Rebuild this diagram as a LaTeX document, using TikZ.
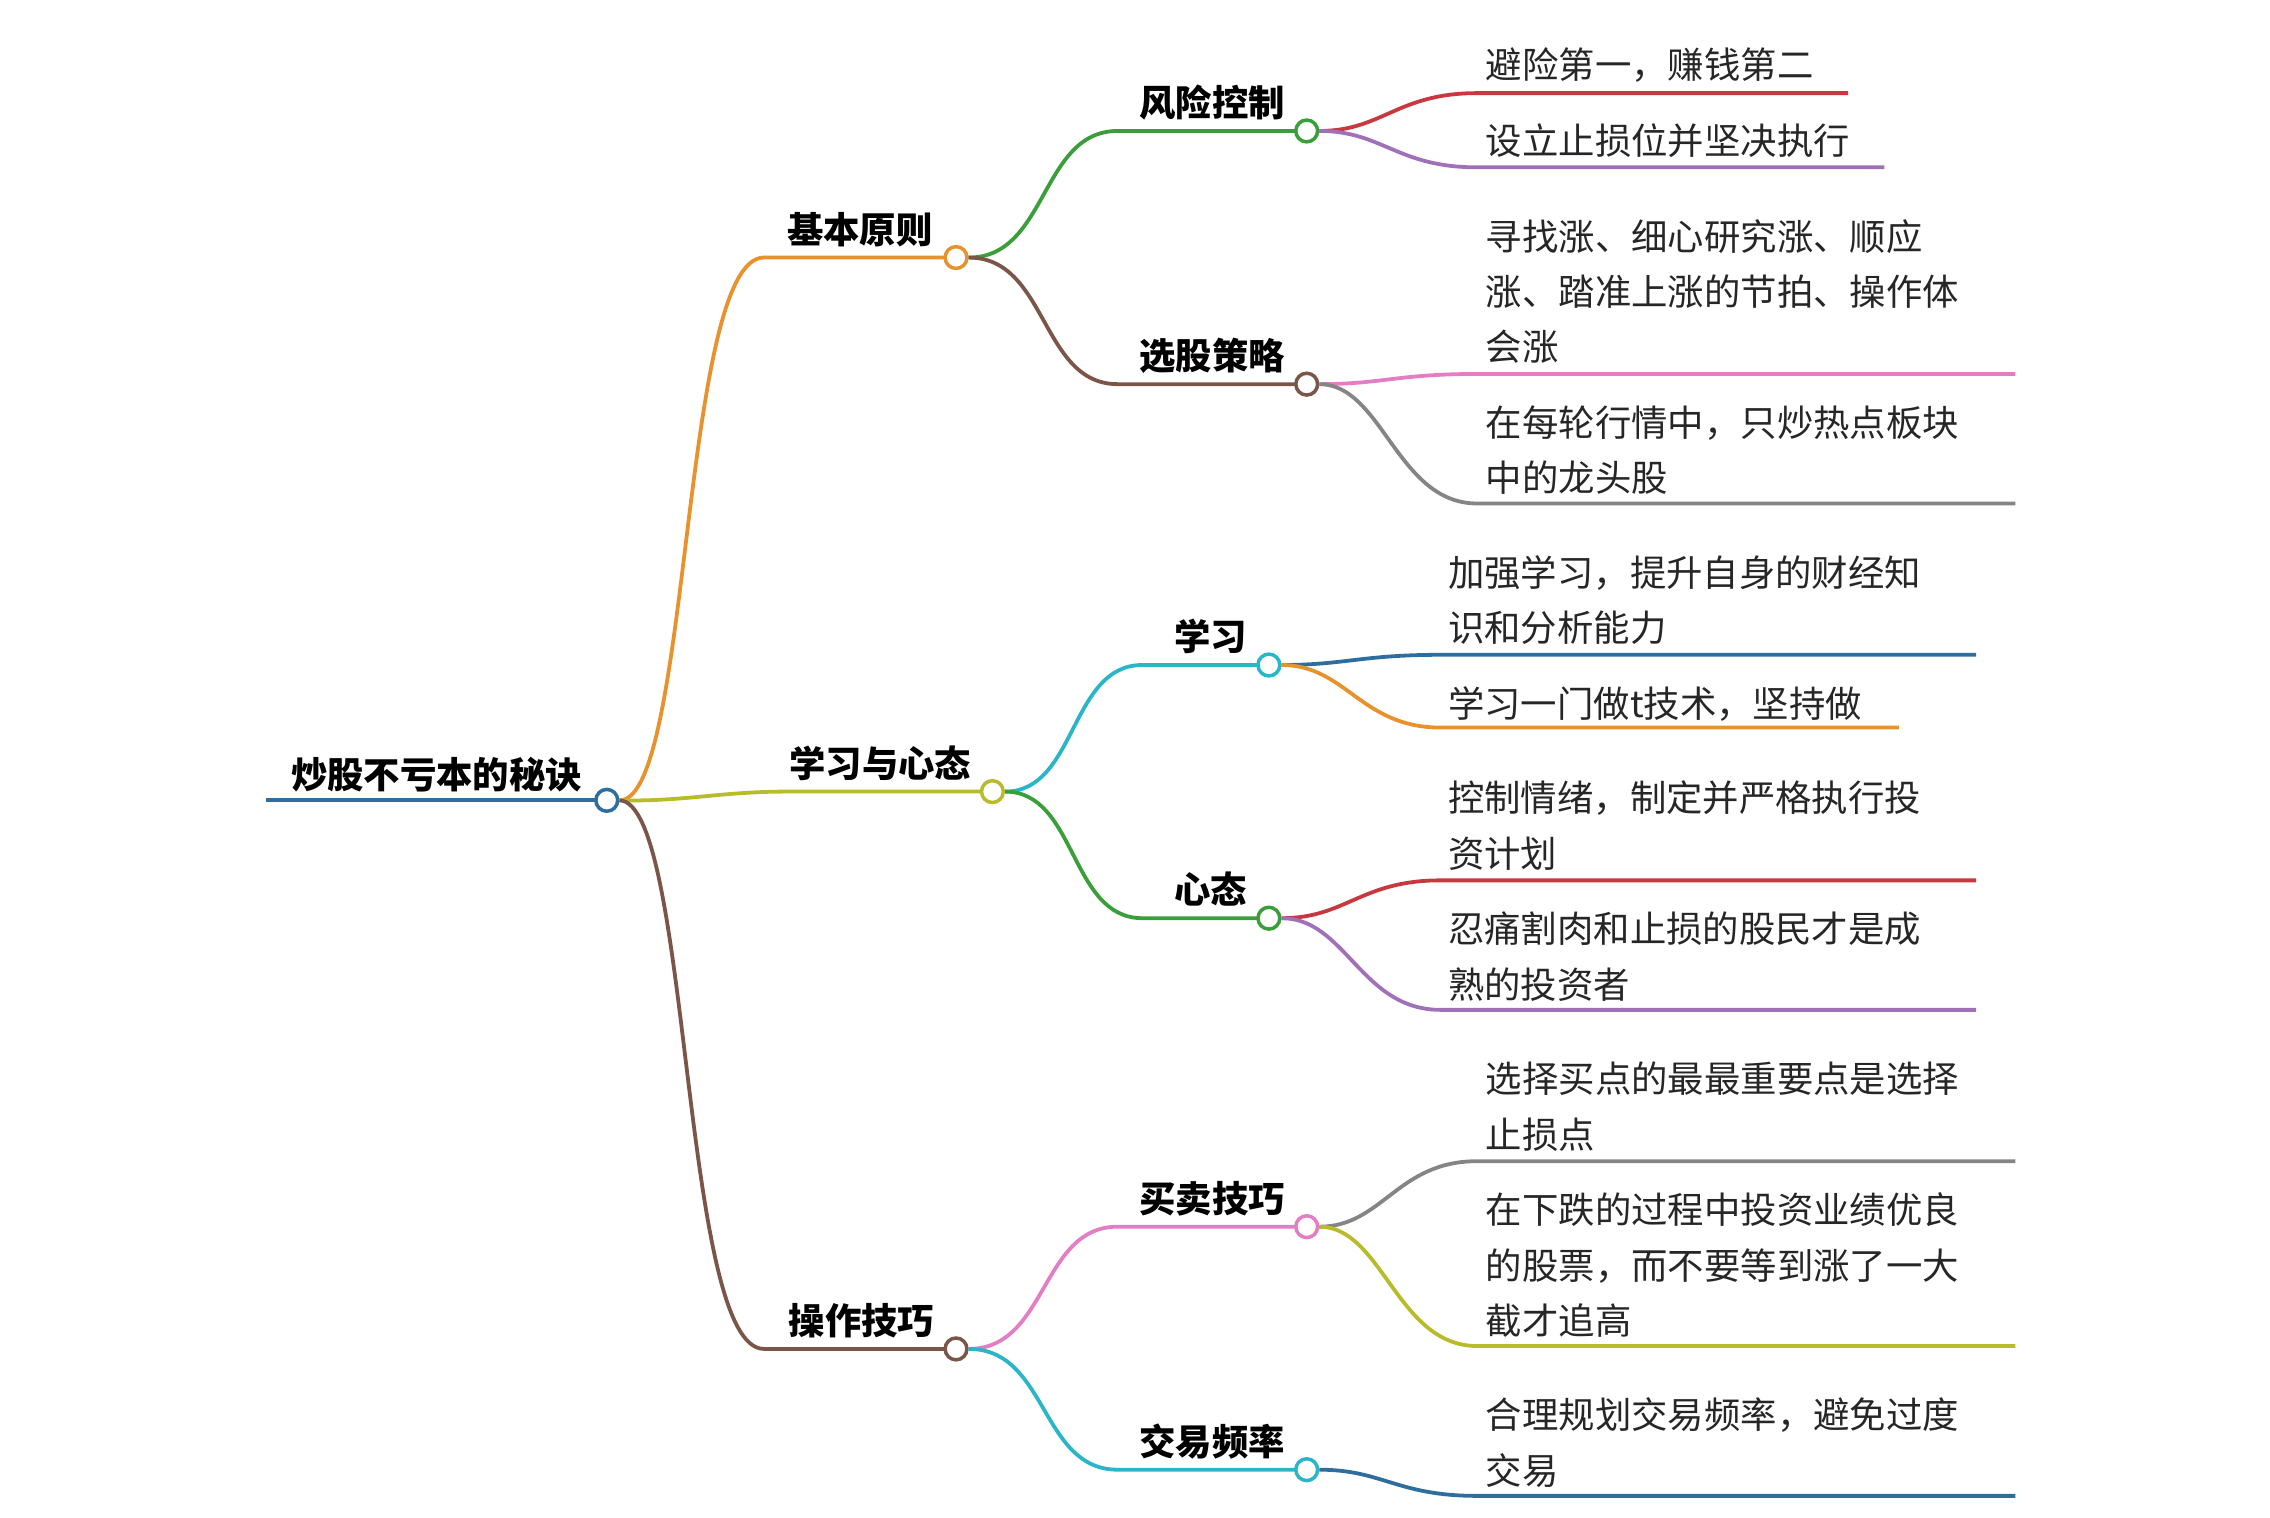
\documentclass[tikz,border=0pt]{standalone}
\usepackage{fontspec}
\setmainfont{Noto Sans CJK SC}
\begin{document}
\begin{tikzpicture}[x=1pt,y=-1pt,
  lw/.style={line width=2.6pt},
  dot/.style={circle,draw,line width=2.4pt,fill=white,minimum size=15pt,inner sep=0},
  lab/.style={font=\fontsize{25}{38}\selectfont\bfseries,inner sep=0,anchor=base},
  leaf/.style={font=\fontsize{25}{38}\selectfont,color=black!85,inner sep=0,anchor=base west,align=left}]
\definecolor{cblue}{HTML}{2E6E9E}\definecolor{corange}{HTML}{E8922E}
\definecolor{cyg}{HTML}{B8BC2A}\definecolor{cbrown}{HTML}{7B5648}
\definecolor{cgreen}{HTML}{3A9E3A}\definecolor{ccyan}{HTML}{2BB5C9}
\definecolor{cpink}{HTML}{E47EC4}\definecolor{cred}{HTML}{C8383F}
\definecolor{cpurple}{HTML}{A070B8}\definecolor{cgray}{HTML}{858585}
\useasboundingbox (0,0) rectangle (1560,1043);
% root
\coordinate (r0) at (183,550);
\draw[lw,cblue] (r0) -- (410,550);
\node[lab] (rt) at (300,542) {炒股不亏本的秘诀};
% level 1
\node[dot,draw=cblue] (R) at (417,550) {};
\draw[lw,corange] (R.east) .. controls (475,551) and (468,177) .. (525,177) -- (650,177);
\draw[lw,cyg] (R.east) .. controls (470,551) and (495,544) .. (540,544) -- (675,544);
\draw[lw,cbrown] (R.east) .. controls (475,551) and (468,927) .. (525,927) -- (650,927);
\node[dot,draw=corange] (A) at (657,177) {};
\node[dot,draw=cyg] (B) at (682,544) {};
\node[dot,draw=cbrown] (C) at (657,927) {};
\node[lab] (At) at (591,167) {基本原则};
\node[lab] (Bt) at (605,534) {学习与心态};
\node[lab] (Ct) at (592,917) {操作技巧};
% level 2
\draw[lw,cgreen] (A.east) .. controls (720,177) and (715,90) .. (768,90) -- (890,90);
\draw[lw,cbrown] (A.east) .. controls (720,177) and (715,264) .. (768,264) -- (890,264);
\draw[lw,ccyan] (B.east) .. controls (740,544) and (735,457) .. (785,457) -- (865,457);
\draw[lw,cgreen] (B.east) .. controls (740,544) and (735,631) .. (785,631) -- (865,631);
\draw[lw,cpink] (C.east) .. controls (720,927) and (715,843) .. (768,843) -- (890,843);
\draw[lw,ccyan] (C.east) .. controls (720,927) and (715,1010) .. (768,1010) -- (890,1010);
\node[dot,draw=cgreen] (A1) at (898,90) {};
\node[dot,draw=cbrown] (A2) at (898,264) {};
\node[dot,draw=ccyan] (B1) at (872,457) {};
\node[dot,draw=cgreen] (B2) at (872,631) {};
\node[dot,draw=cpink] (C1) at (898,843) {};
\node[dot,draw=ccyan] (C2) at (898,1010) {};
\node[lab] (A1t) at (833,80) {风险控制};
\node[lab] (A2t) at (833,254) {选股策略};
\node[lab] (B1t) at (832,447) {学习};
\node[lab] (B2t) at (832,621) {心态};
\node[lab] (C1t) at (833,833) {买卖技巧};
\node[lab] (C2t) at (833,1000) {交易频率};
% leaves
\draw[lw,cred] (A1.east) .. controls (950,90) and (960,64) .. (1015,64) -- (1270,64);
\draw[lw,cpurple] (A1.east) .. controls (950,90) and (960,115) .. (1015,115) -- (1295,115);
\node[leaf] (l1) at (1021,54) {避险第一，赚钱第二};
\node[leaf] (l2) at (1021,106) {设立止损位并坚决执行};
\draw[lw,cpink] (A2.east) .. controls (950,264) and (960,257) .. (1015,257) -- (1385,257);
\draw[lw,cgray] (A2.east) .. controls (950,264) and (960,346) .. (1015,346) -- (1385,346);
\node[leaf] (l3) at (1021,248) {寻找涨、细心研究涨、顺应\\涨、踏准上涨的节拍、操作体\\会涨};
\node[leaf] (l4) at (1021,338) {在每轮行情中，只炒热点板块\\中的龙头股};
\draw[lw,cblue] (B1.east) .. controls (925,457) and (935,450) .. (990,450) -- (1358,450);
\draw[lw,corange] (B1.east) .. controls (925,457) and (935,500) .. (990,500) -- (1305,500);
\node[leaf] (l5) at (995,441) {加强学习，提升自身的财经知\\识和分析能力};
\node[leaf] (l6) at (995,493) {学习一门做t技术，坚持做};
\draw[lw,cred] (B2.east) .. controls (925,631) and (935,605) .. (990,605) -- (1358,605);
\draw[lw,cpurple] (B2.east) .. controls (925,631) and (935,694) .. (990,694) -- (1358,694);
\node[leaf] (l7) at (995,596) {控制情绪，制定并严格执行投\\资计划};
\node[leaf] (l8) at (995,686) {忍痛割肉和止损的股民才是成\\熟的投资者};
\draw[lw,cgray] (C1.east) .. controls (950,843) and (960,798) .. (1015,798) -- (1385,798);
\draw[lw,cyg] (C1.east) .. controls (950,843) and (960,925) .. (1015,925) -- (1385,925);
\node[leaf] (l9) at (1021,789) {选择买点的最最重要点是选择\\止损点};
\node[leaf] (l10) at (1021,917) {在下跌的过程中投资业绩优良\\的股票，而不要等到涨了一大\\截才追高};
\draw[lw,cblue] (C2.east) .. controls (950,1010) and (960,1028) .. (1015,1028) -- (1385,1028);
\node[leaf] (l11) at (1021,1020) {合理规划交易频率，避免过度\\交易};
\end{tikzpicture}
\end{document}
